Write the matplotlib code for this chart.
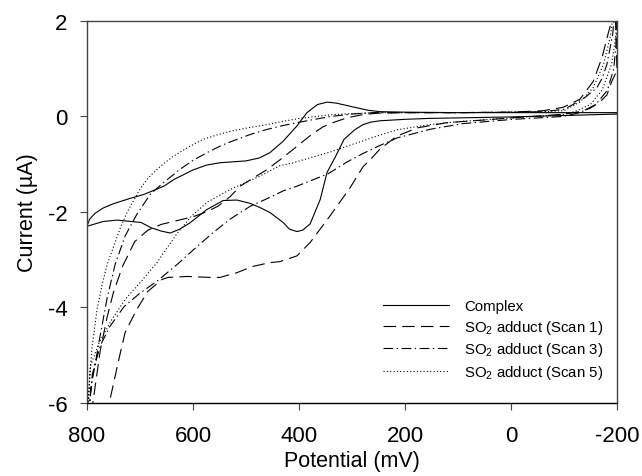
import matplotlib
matplotlib.use("Agg")
import matplotlib.pyplot as plt

plt.rcParams['font.family'] = ['Liberation Sans', 'DejaVu Sans']
plt.rcParams['mathtext.default'] = 'regular'
plt.rcParams['lines.scale_dashes'] = False
plt.rcParams['axes.unicode_minus'] = False

# each series is one closed CV loop: 800 -> -200 (upper branch), then back
complex_v = [800, 795, 785, 770, 751, 720, 692, 655, 636, 600, 575, 550, 525, 500, 475, 455, 430,
             404, 385, 365, 347, 330, 310, 290, 270, 247, 200, 100, 0, -100, -200,
             -200, -100, 0, 100, 153, 200, 247, 265, 279, 295, 315, 332, 347, 360, 379, 393, 404,
             418, 430, 455, 475, 492, 517, 543, 574, 606, 625, 643, 660, 679, 698, 743, 770, 800]
complex_i = [-2.30, -2.15, -2.03, -1.92, -1.83, -1.72, -1.63, -1.46, -1.32, -1.12, -1.02, -0.97,
             -0.95, -0.93, -0.87, -0.76, -0.52, -0.20, 0.08, 0.25, 0.30, 0.28, 0.23, 0.18, 0.13,
             0.10, 0.09, 0.08, 0.08, 0.08, 0.08,
             0.05, 0.02, -0.01, -0.03, -0.04, -0.06, -0.09, -0.12, -0.17, -0.28, -0.48, -0.86,
             -1.17, -1.74, -2.25, -2.38, -2.41, -2.36, -2.22, -2.01, -1.90, -1.82, -1.75, -1.76,
             -1.95, -2.23, -2.36, -2.44, -2.40, -2.33, -2.22, -2.17, -2.20, -2.30]

scan1_v = [800, 789, 775, 762, 750, 733, 710, 685, 660, 630, 600, 575, 553, 530, 511, 485, 460,
           435, 411, 390, 374, 355, 336, 310, 279, 250, 200, 100, 0, -60, -98, -130, -155, -172,
           -183, -190, -196,
           -200, -190, -181, -172, -162, -149, -130, -100, -68, 0, 58, 121, 177, 215, 247, 265,
           279, 304, 342, 379, 404, 436, 455, 487, 517, 549, 568, 611, 647, 658, 685, 706, 728,
           740, 758, 770, 800]
scan1_i = [-7.0, -6.0, -4.9, -4.2, -3.68, -3.14, -2.62, -2.38, -2.26, -2.18, -2.10, -2.00, -1.88,
           -1.68, -1.46, -1.28, -1.11, -0.90, -0.69, -0.50, -0.36, -0.22, -0.13, -0.03, 0.04,
           0.07, 0.08, 0.08, 0.09, 0.12, 0.19, 0.36, 0.73, 1.24, 1.72, 2.0, 2.5,
           0.96, 0.73, 0.45, 0.35, 0.26, 0.17, 0.10, 0.05, 0.02, -0.03, -0.08, -0.13, -0.24,
           -0.41, -0.68, -0.90, -1.05, -1.50, -2.09, -2.64, -2.92, -3.04, -3.06, -3.14, -3.27,
           -3.37, -3.37, -3.35, -3.37, -3.41, -3.66, -4.04, -4.52, -5.09, -6.0, -6.5, -7.2]

scan3_v = [800, 792, 777, 762, 747, 728, 706, 680, 655, 625, 600, 574, 545, 517, 490, 460, 430,
           404, 370, 340, 300, 260, 200, 100, 0, -60, -100, -117, -140, -162, -172, -181, -192,
           -197,
           -200, -199, -194, -182, -160, -130, -98, -4, 91, 153, 215, 250, 280, 309, 345, 404,
           430, 460, 492, 530, 564, 600, 630, 668, 700, 730, 757, 775, 790, 800]
scan3_i = [-6.6, -5.65, -4.7, -3.8, -3.1, -2.5, -2.05, -1.62, -1.38, -1.11, -0.92, -0.76, -0.60,
           -0.48, -0.37, -0.27, -0.19, -0.13, -0.06, 0.0, 0.05, 0.08, 0.08, 0.08, 0.09, 0.10,
           0.15, 0.25, 0.40, 0.60, 0.80, 1.09, 1.72, 2.4,
           2.4, 1.6, 1.0, 0.55, 0.25, 0.08, 0.0, -0.06, -0.15, -0.27, -0.45, -0.62, -0.78,
           -0.95, -1.20, -1.46, -1.56, -1.72, -1.88, -2.15, -2.45, -2.80, -3.10, -3.45, -3.70,
           -3.98, -4.40, -4.80, -5.40, -6.6]

scan5_v = [800, 796, 791, 781, 772, 762, 749, 736, 723, 711, 700, 687, 672, 660, 638, 610, 581,
           553, 525, 492, 460, 430, 398, 366, 336, 300, 250, 200, 100, 0, -60, -100, -130, -155,
           -175, -188, -195,
           -200, -198, -190, -172, -150, -120, -98, -4, 91, 153, 215, 250, 298, 340, 411, 436,
           474, 530, 574, 604, 630, 668, 700, 728, 753, 777, 794, 800]
scan5_i = [-6.6, -5.65, -4.88, -4.04, -3.55, -3.10, -2.70, -2.30, -1.98, -1.74, -1.52, -1.32,
           -1.15, -1.03, -0.84, -0.65, -0.48, -0.38, -0.30, -0.23, -0.17, -0.10, -0.04, 0.0,
           0.04, 0.06, 0.08, 0.08, 0.08, 0.09, 0.10, 0.12, 0.30, 0.60, 1.10, 1.70, 2.3,
           2.3, 1.7, 1.1, 0.55, 0.25, 0.10, 0.04, -0.03, -0.10, -0.17, -0.28, -0.40, -0.58,
           -0.74, -0.97, -1.03, -1.25, -1.53, -1.80, -2.10, -2.45, -3.06, -3.48, -3.83, -4.25,
           -4.73, -5.24, -6.6]

labels = ['Complex', 'SO$_2$ adduct (Scan 1)', 'SO$_2$ adduct (Scan 3)', 'SO$_2$ adduct (Scan 5)']

fig = plt.figure(figsize=(6.42, 4.77), dpi=100)
ax = fig.add_axes([0.1355, 0.153, 0.8255, 0.801])

lw = 0.8
ax.plot(complex_v, complex_i, color='black', lw=lw, ls='-', label=labels[0])
ax.plot(scan1_v, scan1_i, color='black', lw=lw, ls=(0, (9, 4.5)), label=labels[1])
ax.plot(scan3_v, scan3_i, color='black', lw=lw, ls=(0, (7, 2.5, 1, 2.5)), label=labels[2])
ax.plot(scan5_v, scan5_i, color='black', lw=lw, ls=(0, (0.8, 1.6)), label=labels[3])

ax.set_xlim(800, -200)
ax.set_ylim(-6, 2)
ax.set_xticks([800, 600, 400, 200, 0, -200])
ax.set_yticks([2, 0, -2, -4, -6])

for s in ax.spines.values():
    s.set_color('#444444')
    s.set_linewidth(1.0)
ax.spines['bottom'].set_color('black')

ax.tick_params(direction='out', length=5, width=0.8, colors='#444444', labelcolor='black',
               labelsize=16)
ax.tick_params(axis='x', pad=11)
ax.tick_params(axis='y', pad=9)

ax.set_xlabel('Potential (mV)', fontsize=15.5, labelpad=3)
ax.set_ylabel('Current (µA)', fontsize=15.5, labelpad=7)

ax.legend(loc='lower right', bbox_to_anchor=(0.974, 0.058), frameon=False, fontsize=10.8,
          handlelength=4.4, handletextpad=1.0, labelspacing=0.3, borderpad=0,
          borderaxespad=0)

fig.savefig('out.png', dpi=100)
